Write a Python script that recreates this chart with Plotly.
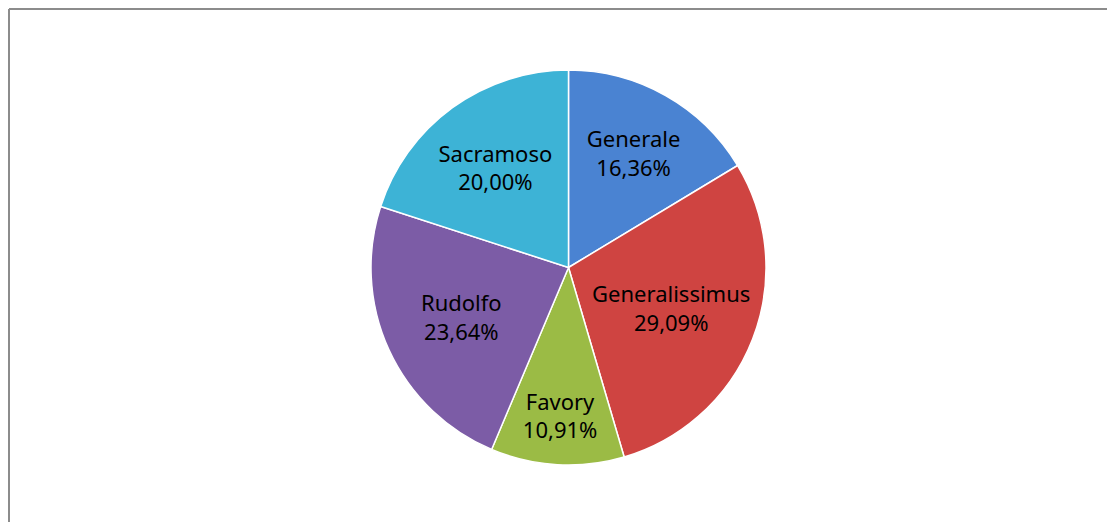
import plotly.graph_objects as go

# Data
Labels = ["Generale", "Generalissimus", "Favory", "Rudolfo", "Sacramoso"]
Counts = [9, 16, 6, 13, 11]
Colors = ["#4a83d2", "#cf4441", "#9bbb45", "#7c5ca6", "#3db3d6"]

fig = go.Figure()

fig.add_trace(go.Pie(
    labels=Labels
    ,values=Counts
    ,sort=False
    ,direction="clockwise"
    ,rotation=0
    ,marker=dict(colors=Colors, line=dict(color="#ffffff", width=1.5))
    ,texttemplate="%{label}<br>%{percent:.2%}"
    ,textposition="inside"
    ,insidetextorientation="horizontal"
    ,textfont=dict(family="Noto Sans", size=22, color="#000000")
    ,hoverinfo="label+percent"
    ,showlegend=False
))

# Chart frame (only left and top edges are visible)
frame_left = (1 - 362) / 397
frame_top = (521 - 65) / 395
fig.add_shape(type="line", xref="paper", yref="paper",
              x0=frame_left, x1=frame_left, y0=-0.3, y1=frame_top,
              line=dict(color="#8c8c8c", width=2))
fig.add_shape(type="line", xref="paper", yref="paper",
              x0=frame_left, x1=2, y0=frame_top, y1=frame_top,
              line=dict(color="#8c8c8c", width=2))

fig.update_layout(
    width=1115
    ,height=522
    ,autosize=False
    ,margin=dict(l=362, r=356, t=62, b=65)
    ,paper_bgcolor="#ffffff"
    ,plot_bgcolor="#ffffff"
    ,separators=", "
    ,uniformtext=dict(minsize=22, mode="show")
)

fig.write_html("out.html")
